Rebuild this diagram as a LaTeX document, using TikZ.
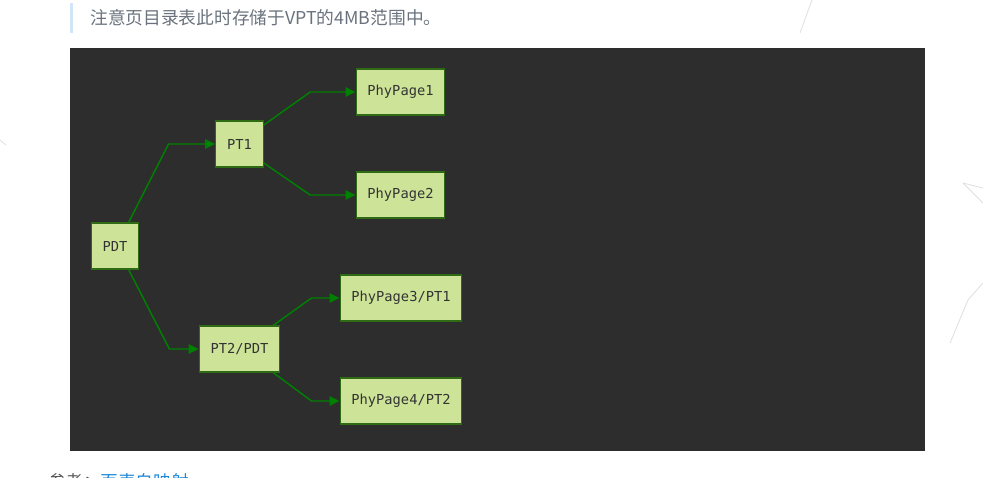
\documentclass[tikz,border=0pt]{standalone}
\usepackage{fontspec}
\setmainfont{Noto Sans CJK SC}
\setmonofont{DejaVu Sans Mono}
\usetikzlibrary{arrows.meta,positioning}

\definecolor{panelbg}{HTML}{2D2D2D}
\definecolor{boxfill}{HTML}{CDE498}
\definecolor{boxline}{HTML}{2F6B14}
\definecolor{edgegreen}{HTML}{008000}
\definecolor{notegray}{HTML}{6A737D}
\definecolor{quotebar}{HTML}{D2E5F8}
\definecolor{linkblue}{HTML}{1E88D6}

\begin{document}
\begin{tikzpicture}[
  x=0.75pt, y=-0.75pt,
  pagebox/.style={draw=boxline, line width=0.8pt, fill=boxfill, text=black!80,
    font=\ttfamily\fontsize{10.3}{12}\selectfont, minimum height=34.5pt, inner xsep=8.5pt},
  link/.style={draw=edgegreen, line width=1.1pt},
  >={Triangle[length=7.5pt, width=7pt]}
]
\useasboundingbox (0,0) rectangle (983,478);
\clip (0,0) rectangle (983,478);

% page background, note and panel
\fill[white] (0,0) rectangle (983,478);
\fill[quotebar] (70,3) rectangle (73,33);
\node[anchor=base west, text=notegray, font=\fontsize{13.3}{15}\selectfont, inner sep=0pt] (note) at (90,25)
  {注意页目录表此时存储于VPT的4MB范围中。};
\fill[panelbg] (70,48) rectangle (925,451);

% faint background strokes
\draw[gray!25, line width=0.6pt] (812,0) -- (800,33);
\draw[gray!25, line width=0.6pt] (963,183) -- (983,188);
\draw[gray!25, line width=0.6pt] (963,183) -- (983,203);
\draw[gray!25, line width=0.6pt] (983,283) -- (968,300);
\draw[gray!25, line width=0.6pt] (968,300) -- (950,343);
\draw[gray!25, line width=0.6pt] (0,140) -- (6,145);

% table nodes
\node[pagebox] (pdt) at (115,246) {PDT};
\node[pagebox] (pt1) at (239.5,144) {PT1};
\node[pagebox] (pt2) at (239.5,349) {PT2/PDT};
\node[pagebox] (page1) at (400.5,92) {PhyPage1};
\node[pagebox] (page2) at (400.5,195) {PhyPage2};
\node[pagebox] (page3) at (401,298) {PhyPage3/PT1};
\node[pagebox] (page4) at (401,401) {PhyPage4/PT2};

% connectors
\draw[link, ->] (pdt.60) -- ([xshift=-35pt]pt1.west) -- (pt1.west);
\draw[link, ->] (pdt.-60) -- ([xshift=-22pt]pt2.west) -- (pt2.west);
\draw[link, ->] (pt1.38) -- ([xshift=-34pt]page1.west) -- (page1.west);
\draw[link, ->] (pt1.-38) -- ([xshift=-34pt]page2.west) -- (page2.west);
\draw[link, ->] (pt2.35) -- ([xshift=-21pt]page3.west) -- (page3.west);
\draw[link, ->] (pt2.-35) -- ([xshift=-21pt]page4.west) -- (page4.west);

% cut-off line below the panel
\node[anchor=base west, text=black!65, font=\fontsize{13.3}{15}\selectfont, inner sep=0pt] (ref) at (48,488) {参考：};
\node[anchor=base west, text=linkblue, font=\fontsize{13.3}{15}\selectfont, inner sep=0pt] (reflink) at (100,488) {页表自映射};
\end{tikzpicture}
\end{document}
